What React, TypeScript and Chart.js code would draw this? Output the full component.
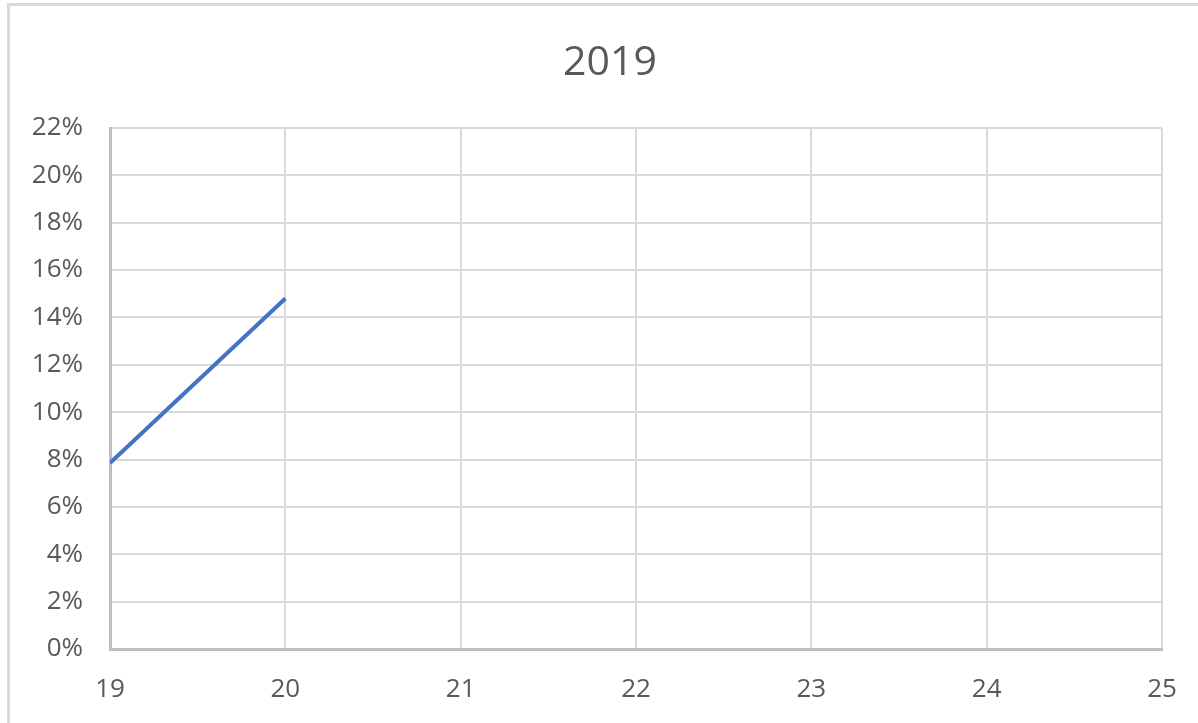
import React, { useEffect, useRef } from "react";
import { Chart, registerables } from "chart.js";

Chart.register(...registerables);

const chartTitle = "2019";
const xValues = [19, 20];
const yValues = [7.85, 14.8];
const xMin = 19;
const xMax = 25;
const yMin = 0;
const yMax = 22;
const yStep = 2;

const titlePlugin = {
  id: "offsetTitle",
  afterDraw(chart: any) {
    const ctx = chart.ctx;
    ctx.save();
    ctx.fillStyle = "#595959";
    ctx.font = "41px 'Open Sans', sans-serif";
    ctx.textAlign = "center";
    ctx.textBaseline = "middle";
    ctx.fillText(chartTitle, 610, 63);
    ctx.restore();
  },
};

export default function App() {
  const ref = useRef<HTMLCanvasElement | null>(null);

  useEffect(() => {
    if (!ref.current) return;
    const points = xValues.map((x, i) => ({ x, y: yValues[i] }));
    const chart = new Chart(ref.current, {
      type: "line",
      data: {
        datasets: [
          {
            data: points,
            borderColor: "#4472C4",
            borderWidth: 4,
            pointRadius: 0,
            fill: false,
            tension: 0,
          },
        ],
      },
      plugins: [titlePlugin],
      options: {
        animation: false,
        responsive: false,
        maintainAspectRatio: false,
        layout: { padding: { left: 0, right: 36, top: 128, bottom: 0 } },
        plugins: {
          legend: { display: false },
          tooltip: { enabled: false },
          title: { display: false },
        },
        scales: {
          x: {
            type: "linear",
            min: xMin,
            max: xMax,
            ticks: {
              stepSize: 1,
              color: "#595959",
              padding: 25,
              font: { family: "'Open Sans', sans-serif", size: 26 },
            },
            grid: { color: "#d9d9d9", lineWidth: 2, drawTicks: false },
            border: { color: "#bfbfbf", width: 3 },
            afterFit: (scale: any) => {
              scale.height = 74;
              scale.paddingRight = 0;
              scale.paddingLeft = 0;
            },
          },
          y: {
            min: yMin,
            max: yMax,
            ticks: {
              stepSize: yStep,
              color: "#595959",
              padding: 27,
              font: { family: "'Open Sans', sans-serif", size: 26 },
              callback: (v: any) => `${v}%`,
            },
            grid: { color: "#d9d9d9", lineWidth: 2, drawTicks: false },
            border: { color: "#bfbfbf", width: 3 },
            afterFit: (scale: any) => {
              scale.width = 110;
            },
          },
        },
      },
    });
    return () => chart.destroy();
  }, []);

  return (
    <>
      <canvas
        ref={ref}
        width={1198}
        height={723}
        style={{ position: "fixed", left: 0, top: 0, width: 1198, height: 723, background: "#fff" }}
      />
      <div
        style={{
          position: "fixed",
          left: 7,
          top: 3,
          width: 1191,
          height: 720,
          borderTop: "3px solid #d9d9d9",
          borderLeft: "3px solid #d9d9d9",
          boxSizing: "border-box",
          pointerEvents: "none",
        }}
      />
    </>
  );
}
